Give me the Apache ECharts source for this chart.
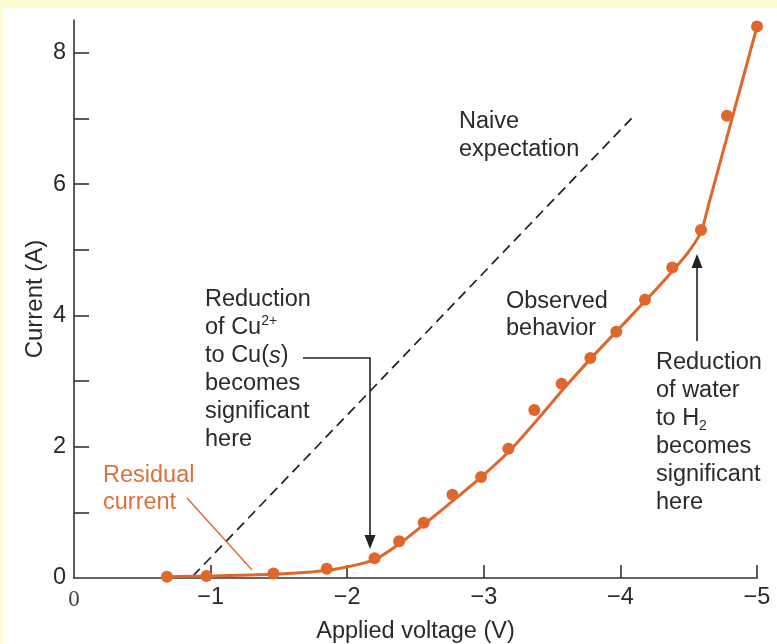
<!DOCTYPE html>
<html><head><meta charset="utf-8">
<script src="https://cdn.jsdelivr.net/npm/echarts@6/dist/echarts.min.js"></script>
<style>html,body{margin:0;padding:0;background:#fffbd4}#c{width:777px;height:644px}</style>
</head><body><div id="c"></div>
<script>
// Measured points (applied voltage V, current A)
const pointV = [-0.68, -0.97, -1.46, -1.85, -2.20, -2.38, -2.56, -2.77, -2.98, -3.18, -3.37, -3.57, -3.78, -3.97, -4.18, -4.38, -4.59, -4.78, -5.00];
const pointI = [0.02, 0.03, 0.07, 0.14, 0.30, 0.56, 0.84, 1.27, 1.54, 1.97, 2.56, 2.96, 3.35, 3.75, 4.24, 4.73, 5.30, 7.04, 8.40];
// Observed-behaviour curve
const curveV = [-0.68, -1.0, -1.5, -1.9, -2.2, -2.4, -2.6, -2.8, -3.0, -3.2, -3.4, -3.6, -3.8, -4.0, -4.2, -4.4, -4.5, -4.59, -4.65, -4.82, -5.0];
const curveI = [0.02, 0.03, 0.06, 0.13, 0.28, 0.55, 0.88, 1.22, 1.57, 1.96, 2.43, 2.92, 3.38, 3.82, 4.26, 4.72, 4.97, 5.27, 5.72, 7.02, 8.40];
// Naive expectation (dashed)
const naiveV = [-0.87, -4.09];
const naiveI = [0.03, 7.02];
// Axis ticks / labels
const xTicks = [-1, -2, -3, -4, -5];
const xLabels = [0, -1, -2, -3, -4, -5];
const yTicks = [1, 2, 3, 4, 5, 6, 7, 8];
const yLabels = [0, 2, 4, 6, 8];

const ORANGE = '#df672c';
const TXT = '#2a2a2a';
const FF = '"Liberation Sans", Arial, Helvetica, sans-serif';
const FS = 23.5;

function zip(a, b) { return a.map((v, i) => [v, b[i]]); }

function txt(x, y, text, rich, color) {
  return {
    type: 'text', x: x, y: y, z: 10,
    style: {
      text: text, fill: color || TXT, fontFamily: FF, fontSize: FS,
      verticalAlign: 'middle', align: 'left', rich: rich || undefined
    }
  };
}
const richBase = {
  n: { fontFamily: FF, fontSize: FS, fill: TXT, lineHeight: 28 },
  i: { fontFamily: FF, fontSize: FS, fill: TXT, fontStyle: 'italic', lineHeight: 28 },
  sup: { fontFamily: FF, fontSize: 14, fill: TXT, verticalAlign: 'top', lineHeight: 28, padding: [0, 0, 10, 0] },
  sub: { fontFamily: FF, fontSize: 14, fill: TXT, verticalAlign: 'bottom', lineHeight: 28, padding: [10, 0, 0, 0] }
};

const chart = echarts.init(document.getElementById('c'), null, { renderer: 'canvas' });
const graphics = [
  { type: 'rect', z: -100, silent: true, shape: { x: 3, y: 8, width: 774, height: 636 }, style: { fill: '#ffffff' } },
  // Naive expectation
  txt(459, 122, 'Naive'),
  txt(459, 150, 'expectation'),
  // Cu block
  txt(205, 300, 'Reduction'),
  txt(205, 328, '{n|of Cu}{sup|2+}', richBase),
  txt(205, 356, '{n|to Cu(}{i|s}{n|)}', richBase),
  txt(205, 384, 'becomes'),
  txt(205, 412, 'significant'),
  txt(205, 440, 'here'),
  // Observed behaviour
  txt(506, 302, 'Observed'),
  txt(506, 329, 'behavior'),
  // Water block
  txt(656, 363, 'Reduction'),
  txt(656, 391, 'of water'),
  txt(656, 419, '{n|to H}{sub|2}', richBase),
  txt(656, 447, 'becomes'),
  txt(656, 475, 'significant'),
  txt(656, 503, 'here'),
  // Residual current
  txt(103, 476, 'Residual', null, '#d9713c'),
  txt(103, 503, 'current', null, '#d9713c'),
  { type: 'polyline', z: 10, shape: { points: [[187, 498], [252, 570]] }, style: { stroke: '#d9713c', lineWidth: 1.5, fill: null } },
  // Cu arrow
  { type: 'polyline', z: 10, shape: { points: [[303, 358], [370, 358], [370, 537]] }, style: { stroke: '#222', lineWidth: 1.6, fill: null } },
  { type: 'polygon', z: 10, shape: { points: [[364.5, 535], [375.5, 535], [370, 549]] }, style: { fill: '#222' } },
  // Water arrow
  { type: 'polyline', z: 10, shape: { points: [[697, 341], [697, 266]] }, style: { stroke: '#222', lineWidth: 1.6, fill: null } },
  { type: 'polygon', z: 10, shape: { points: [[691.5, 268], [702.5, 268], [697, 254]] }, style: { fill: '#222' } }
];

chart.setOption({
  backgroundColor: '#fffbd4',
  animation: false,
  grid: { left: 74, right: 20, top: 20, bottom: 66, containLabel: false, outerBoundsMode: 'none' },
  xAxis: {
    type: 'value', min: -5, max: 0, interval: 1, inverse: true,
    name: 'Applied voltage (V)', nameLocation: 'middle', nameGap: 42, nameMoveOverlap: false,
    nameTextStyle: { fontFamily: FF, fontSize: FS, color: TXT },
    axisLine: { show: true, onZero: false, lineStyle: { color: '#333', width: 1.6 } },
    axisTick: { show: true, inside: true, length: 13, customValues: xTicks, lineStyle: { color: '#333', width: 1.6 } },
    axisLabel: {
      margin: 8, fontFamily: FF, fontSize: FS, color: TXT, customValues: xLabels,
      formatter: v => v === 0 ? '{z|0}' : '\u2212' + Math.abs(v),
      rich: { z: { fontFamily: '"Liberation Serif", "Times New Roman", serif', fontSize: 23, color: '#444', padding: [2, 0, 0, 0] } }
    },
    splitLine: { show: false }
  },
  yAxis: {
    type: 'value', min: 0, max: 8.5, interval: 1,
    name: 'Current (A)', nameLocation: 'middle', nameGap: 27, nameRotate: 90, nameMoveOverlap: false,
    nameTextStyle: { fontFamily: FF, fontSize: 24, color: TXT },
    axisLine: { show: true, onZero: false, lineStyle: { color: '#333', width: 1.6 } },
    axisTick: { show: true, inside: true, length: 15, customValues: yTicks, lineStyle: { color: '#333', width: 1.6 } },
    axisLabel: { margin: 8, fontFamily: FF, fontSize: FS, color: TXT, customValues: yLabels },
    splitLine: { show: false }
  },
  graphic: graphics,
  series: [
    {
      type: 'line', data: zip(naiveV, naiveI), showSymbol: false, symbol: 'none',
      lineStyle: { color: '#222', width: 1.7, type: [10, 6] }, z: 3, silent: true
    },
    {
      type: 'line', data: zip(curveV, curveI), symbol: 'none', smooth: 0.25,
      lineStyle: { color: ORANGE, width: 3 }, z: 4, silent: true
    },
    {
      type: 'scatter', data: zip(pointV, pointI), symbol: 'circle', symbolSize: 12,
      itemStyle: { color: ORANGE, opacity: 1 }, z: 5, silent: true
    }
  ]
});
</script></body></html>
